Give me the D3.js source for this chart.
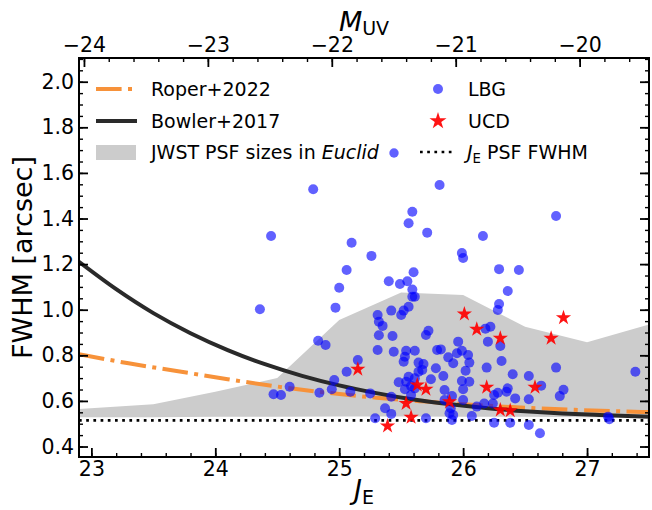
<!DOCTYPE html>
<html>
<head>
<meta charset="utf-8">
<script src="https://cdn.jsdelivr.net/npm/d3@7"></script>
<style>
  body { margin: 0; background: #fff; }
  svg { display: block; font-family: 'DejaVu Sans', sans-serif; }
</style>
</head>
<body>
<div id="chart"></div>
<script>
// values
let lbgJ = [24.79, 24.45, 25.10, 25.26, 25.06, 25.00, 24.36, 24.97, 25.59, 25.56,
  25.71, 25.81, 25.60, 25.40, 25.49, 25.55, 25.59, 25.59, 25.61, 25.56,
  25.42, 25.52, 25.31, 25.50, 25.32, 25.35, 25.32, 25.43, 25.31, 25.44,
  25.54, 25.61, 25.72, 25.70, 25.52, 25.53, 25.15, 25.25, 25.42, 25.48,
  25.54, 25.58, 25.53, 25.61, 25.37, 25.42, 25.29, 25.70, 25.64, 25.68,
  25.67, 25.64, 25.61, 25.58, 25.56, 25.74, 25.78, 25.84, 25.79, 25.82,
  25.88, 25.92, 25.95, 25.96, 25.99, 26.04, 26.05, 26.02, 25.99, 26.05,
  26.00, 25.85, 25.85, 26.00, 25.91, 25.90, 25.89, 25.92, 25.91, 26.07,
  26.19, 26.31, 26.40, 26.36, 26.35, 26.28, 26.25, 26.42, 26.24, 26.17,
  26.11, 26.25, 26.38, 26.53, 26.62, 26.53, 26.53, 26.18, 26.22, 26.20,
  26.30, 26.29, 26.28, 25.06, 24.96, 24.83, 24.89, 24.94, 24.84, 24.60,
  24.47, 24.53, 25.09, 26.75, 26.75, 26.63, 26.81, 26.78, 27.39, 27.17,
  27.18, 25.99, 26.00, 26.16, 26.29, 26.45, 26.36]
let lbgFwhm = [1.528, 1.323, 1.294, 1.236, 1.174, 1.096, 1.002, 1.009, 1.430, 1.379,
  1.338, 1.547, 1.164, 1.125, 1.113, 1.125, 1.089, 1.057, 1.057, 1.013,
  0.996, 0.996, 0.977, 0.977, 0.947, 0.929, 0.888, 0.885, 0.823, 0.816,
  0.820, 0.820, 0.908, 0.889, 0.772, 0.794, 0.779, 0.633, 0.618, 0.682,
  0.684, 0.626, 0.651, 0.655, 0.568, 0.543, 0.524, 0.524, 0.768, 0.762,
  0.736, 0.728, 0.699, 0.665, 0.706, 0.695, 0.743, 0.709, 0.823, 0.826,
  0.791, 0.765, 0.809, 0.860, 0.820, 0.801, 0.768, 0.732, 0.687, 0.684,
  0.651, 0.648, 0.604, 0.604, 0.621, 0.568, 0.546, 0.538, 0.516, 0.534,
  0.746, 0.775, 0.717, 0.655, 0.640, 0.636, 0.626, 0.611, 0.589, 0.589,
  0.575, 0.504, 0.504, 0.494, 0.458, 0.709, 0.607, 0.917, 0.925, 0.860,
  0.841, 1.025, 0.999, 0.728, 0.692, 0.864, 0.845, 0.651, 0.636, 0.662,
  0.629, 0.626, 0.640, 1.411, 0.746, 0.667, 0.649, 0.621, 0.728, 0.531,
  0.520, 1.249, 1.227, 1.323, 1.178, 1.174, 1.082]

let ucdJ = [26.01, 26.11, 26.30, 26.81, 26.71, 25.15, 25.63, 25.70,
  25.54, 25.89, 25.58, 25.39, 26.19, 26.30, 26.38, 26.58]
let ucdFwhm = [0.981, 0.914, 0.875, 0.965, 0.875, 0.739, 0.670, 0.651,
  0.589, 0.596, 0.528, 0.490, 0.660, 0.560, 0.557, 0.660]

let bowlerJ = [22.9, 23.2, 23.5, 23.8, 24.1, 24.4, 24.7, 25.0, 25.3, 25.6, 25.9, 26.2, 26.5, 26.8, 27.1, 27.5]
let bowlerFwhm = [1.21, 1.09, 0.985, 0.897, 0.823, 0.761, 0.71, 0.668, 0.634, 0.606, 0.585, 0.568, 0.555, 0.545, 0.538, 0.531]

let roperJ = [22.9, 23.3, 23.7, 24.1, 24.5, 24.9, 25.3, 25.7, 26.1, 26.5, 26.9, 27.5]
let roperFwhm = [0.805, 0.765, 0.73, 0.695, 0.663, 0.636, 0.614, 0.597, 0.582, 0.570, 0.561, 0.551]

let psfJ = [22.9, 23.5, 24.0, 24.5, 25.0, 25.5, 26.0, 26.5, 27.0, 27.5]
let psfLow = [0.528, 0.528, 0.53, 0.53, 0.532, 0.532, 0.53, 0.53, 0.528, 0.528]
let psfHigh = [0.565, 0.585, 0.64, 0.70, 0.955, 1.075, 1.065, 0.925, 0.857, 0.935]

let jePsfFwhm = 0.515

let xTicks = [23, 24, 25, 26, 27]
let yTicks = [0.4, 0.6, 0.8, 1.0, 1.2, 1.4, 1.6, 1.8, 2.0]
let muvTicks = [-24, -23, -22, -21, -20]
let muvOffset = 46.94

let width = 652
let height = 510
let margin = { top: 58, left: 79, right: 3, bottom: 53 }
let plotW = width - margin.left - margin.right
let plotH = height - margin.top - margin.bottom

let x = d3.scaleLinear().domain([22.9, 27.5]).range([margin.left, margin.left + plotW])
let y = d3.scaleLinear().domain([0.354, 2.104]).range([margin.top + plotH, margin.top])
let xTop = d3.scaleLinear().domain([22.9 - muvOffset, 27.5 - muvOffset]).range(x.range())

let xMinor = d3.range(23, 27.5, 0.2).map(d => +d.toFixed(2))
let yMinor = d3.range(0.4, 2.1001, 0.05).map(d => +d.toFixed(2))
let muvMinor = d3.range(-24, -19.45, 0.2).map(d => +d.toFixed(2))

let svg = d3.select('#chart').append('svg')
  .attr('width', width)
  .attr('height', height)

svg.append('clipPath').attr('id', 'clip')
  .append('rect')
  .attr('x', margin.left).attr('y', margin.top)
  .attr('width', plotW).attr('height', plotH)

let plot = svg.append('g').attr('clip-path', 'url(#clip)')

// JWST PSF band
let band = psfJ.map((d, i) => ({ j: d, lo: psfLow[i], hi: psfHigh[i] }))
plot.append('path')
  .datum(band)
  .attr('d', d3.area().x(d => x(d.j)).y0(d => y(d.lo)).y1(d => y(d.hi)))
  .attr('fill', '#cccccc')

// J_E PSF FWHM
plot.append('line')
  .attr('x1', x(22.9)).attr('x2', x(27.5))
  .attr('y1', y(jePsfFwhm)).attr('y2', y(jePsfFwhm))
  .attr('stroke', '#000')
  .attr('stroke-width', 2.7)
  .attr('stroke-dasharray', '2.7,4.5')

let line = d3.line().x(d => x(d[0])).y(d => y(d[1])).curve(d3.curveMonotoneX)

plot.append('path')
  .datum(roperJ.map((d, i) => [d, roperFwhm[i]]))
  .attr('d', line)
  .attr('fill', 'none')
  .attr('stroke', '#f7923a')
  .attr('stroke-width', 4)
  .attr('stroke-dasharray', '25.6,6.4,4,6.4')

plot.append('path')
  .datum(bowlerJ.map((d, i) => [d, bowlerFwhm[i]]))
  .attr('d', line)
  .attr('fill', 'none')
  .attr('stroke', '#2a2a2a')
  .attr('stroke-width', 4)

plot.selectAll('.lbg')
  .data(lbgJ.map((d, i) => [d, lbgFwhm[i]]))
  .enter()
  .append('circle')
  .attr('class', 'lbg')
  .attr('cx', d => x(d[0]))
  .attr('cy', d => y(d[1]))
  .attr('r', 5)
  .attr('fill', '#0000ff')
  .attr('fill-opacity', 0.62)

plot.selectAll('.ucd')
  .data(ucdJ.map((d, i) => [d, ucdFwhm[i]]))
  .enter()
  .append('path')
  .attr('class', 'ucd')
  .attr('d', d3.symbol(d3.symbolStar, 72))
  .attr('transform', d => `translate(${x(d[0])},${y(d[1])})`)
  .attr('fill', '#ff0000')
  .attr('fill-opacity', 0.92)

// axes, ticks pointing in
function styleAxis(g, w, fs) {
  g.select('.domain').remove()
  g.attr('font-family', 'DejaVu Sans').attr('font-size', fs)
  g.selectAll('line').attr('stroke-width', w)
  g.selectAll('text').attr('fill', '#000')
}

svg.append('g')
  .attr('transform', `translate(0,${margin.top + plotH})`)
  .call(d3.axisBottom(x).tickValues(xMinor).tickSize(-4).tickFormat(''))
  .call(g => styleAxis(g, 1.4, 10))
svg.append('g')
  .attr('transform', `translate(0,${margin.top + plotH})`)
  .call(d3.axisBottom(x).tickValues(xTicks).tickSize(-9).tickPadding(4).tickFormat(d3.format('d')))
  .call(g => styleAxis(g, 1.8, 20.5))

svg.append('g')
  .attr('transform', `translate(0,${margin.top})`)
  .call(d3.axisTop(xTop).tickValues(muvMinor).tickSize(-4).tickFormat(''))
  .call(g => styleAxis(g, 1.4, 10))
svg.append('g')
  .attr('transform', `translate(0,${margin.top})`)
  .call(d3.axisTop(xTop).tickValues(muvTicks).tickSize(-9).tickPadding(6).tickFormat(d3.format('d')))
  .call(g => styleAxis(g, 1.8, 20.5))

svg.append('g')
  .attr('transform', `translate(${margin.left},0)`)
  .call(d3.axisLeft(y).tickValues(yMinor).tickSize(-4).tickFormat(''))
  .call(g => styleAxis(g, 1.4, 10))
svg.append('g')
  .attr('transform', `translate(${margin.left},0)`)
  .call(d3.axisLeft(y).tickValues(yTicks).tickSize(-9).tickPadding(5).tickFormat(d3.format('.1f')))
  .call(g => styleAxis(g, 1.8, 20.5))

svg.append('g')
  .attr('transform', `translate(${margin.left + plotW},0)`)
  .call(d3.axisRight(y).tickValues(yMinor).tickSize(-4).tickFormat(''))
  .call(g => styleAxis(g, 1.4, 10))
svg.append('g')
  .attr('transform', `translate(${margin.left + plotW},0)`)
  .call(d3.axisRight(y).tickValues(yTicks).tickSize(-9).tickFormat(''))
  .call(g => styleAxis(g, 1.8, 10))

svg.append('rect')
  .attr('x', margin.left).attr('y', margin.top)
  .attr('width', plotW).attr('height', plotH)
  .attr('fill', 'none')
  .attr('stroke', '#000')
  .attr('stroke-width', 2)

// axis titles
let xTitle = svg.append('text')
  .attr('x', margin.left + plotW / 2)
  .attr('y', 499)
  .attr('text-anchor', 'middle')
  .attr('font-size', 27)
xTitle.append('tspan').attr('font-style', 'italic').text('J')
xTitle.append('tspan').attr('font-size', 19).attr('dy', 5).text('E')

let topTitle = svg.append('text')
  .attr('x', margin.left + plotW / 2)
  .attr('y', 31)
  .attr('text-anchor', 'middle')
  .attr('font-size', 27)
topTitle.append('tspan').attr('font-style', 'italic').text('M')
topTitle.append('tspan').attr('font-size', 19).attr('dy', 4).text('UV')

svg.append('text')
  .attr('transform', `translate(32,${margin.top + plotH / 2}) rotate(-90)`)
  .attr('text-anchor', 'middle')
  .attr('font-size', 27)
  .text('FWHM [arcsec]')

// legend
let legend = svg.append('g').attr('font-size', 19)

legend.append('line')
  .attr('x1', 96).attr('x2', 137).attr('y1', 89).attr('y2', 89)
  .attr('stroke', '#f7923a').attr('stroke-width', 4)
  .attr('stroke-dasharray', '25.6,6.4,4,6.4')
legend.append('text').attr('x', 151).attr('y', 89).attr('dy', '0.35em').text('Roper+2022')

legend.append('line')
  .attr('x1', 96).attr('x2', 137).attr('y1', 121).attr('y2', 121)
  .attr('stroke', '#2a2a2a').attr('stroke-width', 4)
legend.append('text').attr('x', 151).attr('y', 121).attr('dy', '0.35em').text('Bowler+2017')

legend.append('rect')
  .attr('x', 96).attr('y', 145).attr('width', 40).attr('height', 15)
  .attr('fill', '#cccccc')
let jwst = legend.append('text').attr('x', 151).attr('y', 152).attr('dy', '0.35em')
jwst.append('tspan').text('JWST PSF sizes in ')
jwst.append('tspan').attr('font-style', 'italic').text('Euclid')
legend.append('circle')
  .attr('cx', 394).attr('cy', 153).attr('r', 4.7)
  .attr('fill', '#0000ff').attr('fill-opacity', 0.62)

legend.append('circle')
  .attr('cx', 438).attr('cy', 89).attr('r', 5)
  .attr('fill', '#0000ff').attr('fill-opacity', 0.62)
legend.append('text').attr('x', 468).attr('y', 89).attr('dy', '0.35em').text('LBG')

legend.append('path')
  .attr('d', d3.symbol(d3.symbolStar, 90))
  .attr('transform', 'translate(438,121)')
  .attr('fill', '#ff0000').attr('fill-opacity', 0.92)
legend.append('text').attr('x', 468).attr('y', 121).attr('dy', '0.35em').text('UCD')

legend.append('line')
  .attr('x1', 420).attr('x2', 454).attr('y1', 152).attr('y2', 152)
  .attr('stroke', '#000').attr('stroke-width', 2.7)
  .attr('stroke-dasharray', '2.7,4.5')
let jeText = legend.append('text').attr('x', 467).attr('y', 152).attr('dy', '0.35em')
jeText.append('tspan').attr('font-style', 'italic').text('J')
jeText.append('tspan').attr('font-size', 13.3).attr('dy', 4).text('E')
jeText.append('tspan').attr('dy', -4).text(' PSF FWHM')
</script>
</body>
</html>
